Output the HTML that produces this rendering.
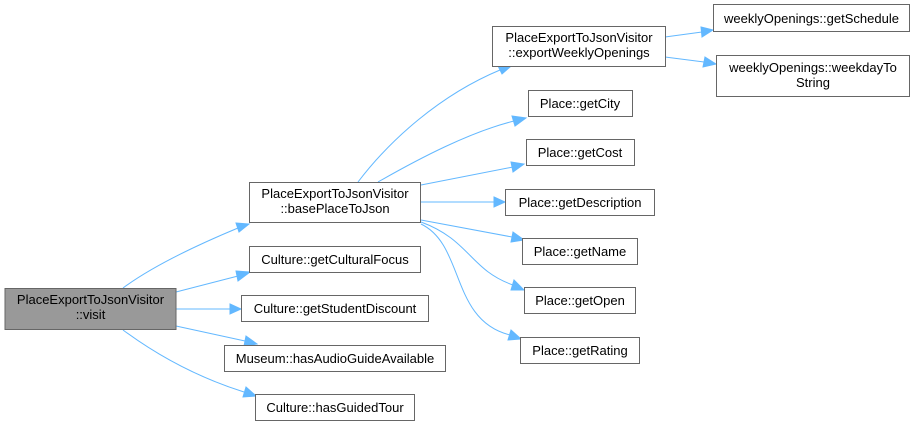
<!DOCTYPE html>
<html><head><meta charset="utf-8"><style>
html,body{margin:0;padding:0;background:#fff;width:915px;height:426px;overflow:hidden}
text{font-family:"Liberation Sans",Arial,sans-serif;font-size:13px;fill:#000}
.b{fill:#fff;stroke:#666;stroke-width:1}
.e{fill:none;stroke:#63b8ff;stroke-width:1}
.a{fill:#63b8ff;stroke:#63b8ff}
</style></head><body>
<svg width="915" height="426" xmlns="http://www.w3.org/2000/svg">
<path class="e" d="M123,288 C150,268 190,248 238,228"/><polygon class="a" points="236,223 249,224 239,232"/>
<path class="e" d="M176,292 L238,276"/><polygon class="a" points="236,271 250,272 238,281"/>
<path class="e" d="M176,309 L230,309"/><polygon class="a" points="230,304 241,309 230,314"/>
<path class="e" d="M176,326 L245,341"/><polygon class="a" points="246,336 257,344 244,346"/>
<path class="e" d="M123,330 C150,350 190,375 244,392"/><polygon class="a" points="246,387 256,396 243,397"/>
<path class="e" d="M358,182 C390,140 440,95 500,70"/><polygon class="a" points="497,64 510,67 502,74"/>
<path class="e" d="M378,182 C420,158 470,132 514,121"/><polygon class="a" points="512,116 526,118 515,126"/>
<path class="e" d="M421,185 L513,167"/><polygon class="a" points="511,162 524,164 513,172"/>
<path class="e" d="M421,202 L494,202"/><polygon class="a" points="494,197 505,202 494,207"/>
<path class="e" d="M421,220 L512,237"/><polygon class="a" points="513,232 524,240 511,242"/>
<path class="e" d="M421,222 C470,240 470,270 513,285"/><polygon class="a" points="514,280 524,290 511,290"/>
<path class="e" d="M421,224 C465,245 450,320 510,335"/><polygon class="a" points="511,330 521,339 508,340"/>
<path class="e" d="M665,37 L702,32"/><polygon class="a" points="701,27 713,30 702,37"/>
<path class="e" d="M665,57 L704,62"/><polygon class="a" points="705,57 716,64 703,67"/>
<rect x="5" y="288.5" width="171" height="41" fill="#999" stroke="#666"/>
<text x="90.5" y="304" text-anchor="middle">PlaceExportToJsonVisitor</text>
<text x="90.5" y="319" text-anchor="middle">::visit</text>
<rect class="b" x="249.5" y="182.5" width="171" height="40"/>
<text x="335" y="198" text-anchor="middle">PlaceExportToJsonVisitor</text>
<text x="335" y="213" text-anchor="middle">::basePlaceToJson</text>
<rect class="b" x="249.5" y="246.5" width="171" height="26"/><text x="335" y="264" text-anchor="middle">Culture::getCulturalFocus</text>
<rect class="b" x="241.5" y="295.5" width="187" height="26"/><text x="335" y="313" text-anchor="middle">Culture::getStudentDiscount</text>
<rect class="b" x="224.5" y="345.5" width="221" height="26"/><text x="335" y="363" text-anchor="middle">Museum::hasAudioGuideAvailable</text>
<rect class="b" x="255.5" y="394.5" width="159" height="26"/><text x="335" y="412" text-anchor="middle">Culture::hasGuidedTour</text>
<rect class="b" x="492.5" y="26.5" width="173" height="40"/>
<text x="579" y="42" text-anchor="middle">PlaceExportToJsonVisitor</text>
<text x="579" y="57" text-anchor="middle">::exportWeeklyOpenings</text>
<rect class="b" x="528.5" y="90.5" width="104" height="26"/><text x="580" y="108" text-anchor="middle">Place::getCity</text>
<rect class="b" x="526.5" y="139.5" width="108" height="26"/><text x="580" y="157" text-anchor="middle">Place::getCost</text>
<rect class="b" x="505.5" y="189.5" width="149" height="26"/><text x="580" y="207" text-anchor="middle">Place::getDescription</text>
<rect class="b" x="522.5" y="238.5" width="115" height="26"/><text x="580" y="256" text-anchor="middle">Place::getName</text>
<rect class="b" x="524.5" y="287.5" width="111" height="26"/><text x="580" y="305" text-anchor="middle">Place::getOpen</text>
<rect class="b" x="520.5" y="337.5" width="119" height="26"/><text x="580" y="355" text-anchor="middle">Place::getRating</text>
<rect class="b" x="713.5" y="4.5" width="196" height="27"/><text x="811.5" y="23" text-anchor="middle">weeklyOpenings::getSchedule</text>
<rect class="b" x="716.5" y="55.5" width="193" height="41"/>
<text x="813" y="72" text-anchor="middle">weeklyOpenings::weekdayTo</text>
<text x="813" y="87" text-anchor="middle">String</text>
</svg>
</body></html>
